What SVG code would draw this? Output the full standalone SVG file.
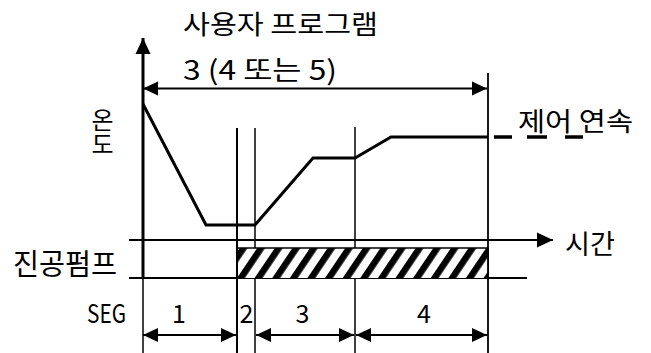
<svg xmlns="http://www.w3.org/2000/svg" width="651" height="353" viewBox="0 0 651 353">
<style>
text{font-family:"Noto Sans CJK KR","Noto Sans",sans-serif;fill:#000}
.ln{stroke:#000;fill:none}
.num{font-size:25px;text-anchor:middle}
.vt{writing-mode:vertical-rl;text-orientation:upright}
</style>
<defs>
<marker id="ah" markerUnits="userSpaceOnUse" markerWidth="16" markerHeight="16" refX="15" refY="7" orient="auto-start-reverse" viewBox="0 0 16 14">
<path d="M0,0 L15,7 L0,14 z" fill="#000"/>
</marker>
<marker id="ahBig" markerUnits="userSpaceOnUse" markerWidth="17" markerHeight="16" refX="16" refY="7.5" orient="auto-start-reverse" viewBox="0 0 17 15">
<path d="M0,0 L16,7.5 L0,15 z" fill="#000"/>
</marker>
<pattern id="hatch" patternUnits="userSpaceOnUse" width="14.6" height="20" patternTransform="translate(237 278) rotate(34)">
<rect x="0" y="0" width="6.5" height="20" fill="#000"/>
</pattern>
</defs>
<rect width="651" height="353" fill="#fff"/>

<g id="grid">
<line class="ln" x1="237" y1="128" x2="237" y2="353" stroke-width="2"/>
<line class="ln" x1="255" y1="128" x2="255" y2="353" stroke-width="1.5"/>
<line class="ln" x1="355" y1="127" x2="355" y2="353" stroke-width="1.5"/>
<line class="ln" x1="488" y1="73" x2="488" y2="353" stroke-width="1.8"/>
<line class="ln" x1="143" y1="278" x2="143" y2="353" stroke-width="1.5"/>
<line class="ln" x1="129" y1="278" x2="527" y2="278" stroke-width="2"/>
</g>

<g id="pump-bar">
<rect x="237" y="248" width="251" height="30" fill="#fff"/>
<rect x="237" y="248" width="251" height="30" fill="url(#hatch)"/>
<line class="ln" x1="237" y1="248" x2="488" y2="248" stroke-width="1.5"/>
<line class="ln" x1="237" y1="248" x2="237" y2="278" stroke-width="2"/>
<line class="ln" x1="488" y1="248" x2="488" y2="278" stroke-width="1.8"/>
</g>

<g id="axes">
<line class="ln" x1="143" y1="278" x2="143" y2="38" stroke-width="3" marker-end="url(#ahBig)"/>
<line class="ln" x1="129" y1="240" x2="553" y2="240" stroke-width="2" marker-end="url(#ahBig)"/>
</g>

<g id="connectors">
<line class="ln" x1="143" y1="88.5" x2="487" y2="88.5" stroke-width="2" marker-start="url(#ah)" marker-end="url(#ah)"/>
<line class="ln" x1="143" y1="335" x2="236" y2="335" stroke-width="2" marker-start="url(#ah)" marker-end="url(#ah)"/>
<line class="ln" x1="256" y1="335" x2="354" y2="335" stroke-width="2" marker-start="url(#ah)" marker-end="url(#ah)"/>
<line class="ln" x1="356" y1="335" x2="487" y2="335" stroke-width="2" marker-start="url(#ah)" marker-end="url(#ah)"/>
</g>

<g id="temperature-curve">
<polyline class="ln" points="143,104 206,225 255,225 313,158 355,158 391,137 488,137" stroke-width="3" stroke-linejoin="miter"/>
<path class="ln" d="M494,137 h18 M527,137 h20 M565,137 h18" stroke-width="3.5"/>
</g>

<g id="labels">
<text x="183" y="34" font-size="26" textLength="195" lengthAdjust="spacingAndGlyphs">사용자 프로그램</text>
<text x="183" y="80" font-size="27" textLength="154" lengthAdjust="spacingAndGlyphs">3 (4 또는 5)</text>
<text class="vt" x="102.5" y="108" font-size="24">온도</text>
<text x="518" y="130.5" font-size="26" textLength="115" lengthAdjust="spacingAndGlyphs">제어 연속</text>
<text x="565" y="253.5" font-size="27" textLength="50" lengthAdjust="spacingAndGlyphs">시간</text>
<text x="13" y="275" font-size="29" textLength="104" lengthAdjust="spacingAndGlyphs">진공펌프</text>
<text x="87" y="323" font-size="26" textLength="39" lengthAdjust="spacingAndGlyphs">SEG</text>
<text class="num" x="179" y="323">1</text>
<text class="num" x="246.5" y="323">2</text>
<text class="num" x="302.5" y="323">3</text>
<text class="num" x="424" y="323">4</text>
</g>
</svg>
